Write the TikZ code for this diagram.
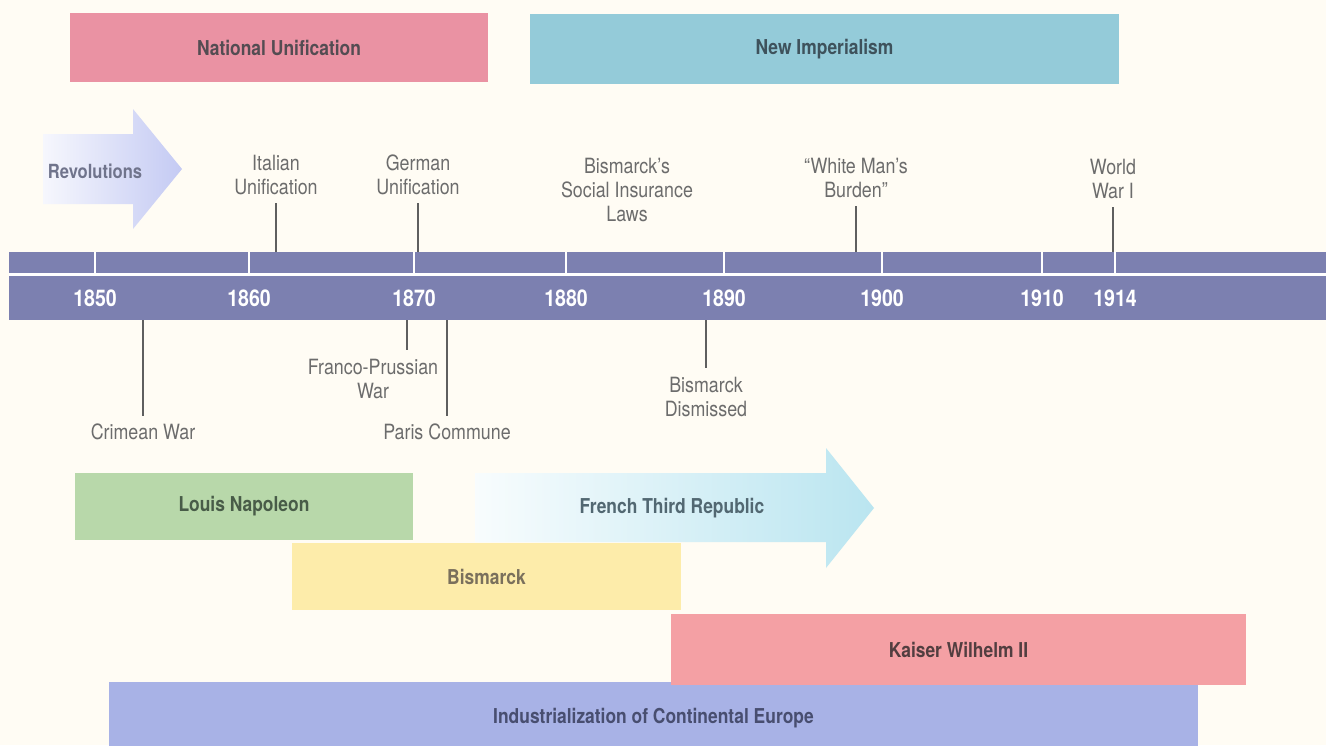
\documentclass[tikz,border=0pt]{standalone}
\usepackage{fontspec}
\setmainfont[FakeStretch=0.85]{TeX Gyre Heros}
\usetikzlibrary{calc}

\definecolor{bgc}{RGB}{255,252,244}
\definecolor{natc}{RGB}{234,146,163}
\definecolor{impc}{RGB}{148,203,217}
\definecolor{revc}{RGB}{196,202,243}
\definecolor{axisc}{RGB}{124,128,176}
\definecolor{louc}{RGB}{184,216,170}
\definecolor{ftrc}{RGB}{186,229,240}
\definecolor{bisc}{RGB}{253,236,170}
\definecolor{kaic}{RGB}{244,160,164}
\definecolor{indc}{RGB}{168,178,230}
\definecolor{lblc}{RGB}{108,108,108}
\definecolor{linkc}{RGB}{95,95,95}
\definecolor{bandt}{RGB}{78,80,84}
\definecolor{natt}{RGB}{84,76,82}
\definecolor{impt}{RGB}{62,82,92}
\definecolor{revt}{RGB}{112,116,140}
\definecolor{lout}{RGB}{72,92,72}
\definecolor{ftrt}{RGB}{82,104,114}
\definecolor{bist}{RGB}{122,112,92}
\definecolor{kait}{RGB}{82,62,64}
\definecolor{indt}{RGB}{72,78,112}

\tikzset{
  band/.style={inner sep=0pt, text=bandt, font=\bfseries\fontsize{20.5}{24}\selectfont},
  lbl/.style={align=center, text=lblc, inner sep=8pt, font=\fontsize{21}{24}\selectfont},
  link/.style={draw=linkc, line width=1.5pt},
  yr/.style={text=white, font=\bfseries\fontsize{23}{26}\selectfont}
}

\begin{document}
\begin{tikzpicture}[x=1pt,y=-1pt]
	% Background and page size
	\fill[bgc] (0,0) rectangle (1326,745);
	\useasboundingbox (0,0) rectangle (1326,745);
	
	% Top periods
	\node[band, fill=natc, text=natt, minimum width=418pt, minimum height=69pt] (natuni) at (279,47.5) {National Unification};
	\node[band, fill=impc, text=impt, minimum width=589pt, minimum height=70pt] (newimp) at (824.5,49) {New Imperialism};
	
	% Revolutions arrow
	\shade[left color=revc!15, right color=revc] (43,134) -- (133,134) -- (133,109) -- (182,169) -- (133,229) -- (133,204) -- (43,204) -- cycle;
	\node[text=revt, font=\bfseries\fontsize{19.5}{22}\selectfont] (revol) at (95,171) {Revolutions};
	
	% Draw the time axis
	\node[fill=axisc, inner sep=0pt, minimum width=1340pt, minimum height=68pt, anchor=north west] (axis) at (9,252) {};
	\draw[white, line width=2.5pt] (9,274.5) -- (1349,274.5);
	\foreach \yr/\x in {1850/95, 1860/249, 1870/414, 1880/566, 1890/724, 1900/882, 1910/1042, 1914/1115}
	{
		\draw[white, line width=2pt] (\x,252) -- (\x,274);
		\node[yr] (y\yr) at (\x,298) {\yr};
	}
	
	% Events above the axis
	\node[lbl] (ital) at (276,175) {Italian\\Unification};
	\node[lbl] (germ) at (418,175) {German\\Unification};
	\node[lbl] (insur) at (627,190) {Bismarck’s\\Social Insurance\\Laws};
	\node[lbl] (burden) at (856,178) {“White Man’s\\Burden”};
	\node[lbl] (wwi) at (1113,179) {World\\War I};
	\coordinate (c-ital) at (276,252);
	\coordinate (c-germ) at (418,252);
	\coordinate (c-burden) at (856,252);
	\coordinate (c-wwi) at (1113,252);
	\draw[link] (c-ital) -- (ital.south);
	\draw[link] (c-germ) -- (germ.south);
	\draw[link] (c-burden) -- (burden.south);
	\draw[link] (c-wwi) -- (wwi.south);
	
	% Events below the axis
	\node[lbl] (crim) at (143,432) {Crimean War};
	\node[lbl] (franco) at (373,378.5) {Franco-Prussian\\War};
	\node[lbl] (paris) at (447,432) {Paris Commune};
	\node[lbl] (dism) at (706,396.5) {Bismarck\\Dismissed};
	\coordinate (c-crim) at (143,320);
	\coordinate (c-franco) at (407,320);
	\coordinate (c-paris) at (447,320);
	\coordinate (c-dism) at (706,320);
	\draw[link] (c-crim) -- (crim.north);
	\draw[link] (c-franco) -- (c-franco |- franco.north);
	\draw[link] (c-paris) -- (paris.north);
	\draw[link] (c-dism) -- (dism.north);
	
	% Rulers and lower periods
	\node[band, fill=louc, text=lout, minimum width=338pt, minimum height=67pt] (louis) at (244,506.5) {Louis Napoleon};
	\shade[left color=ftrc!10, right color=ftrc] (475,473) -- (826,473) -- (826,448) -- (874,508) -- (826,568) -- (826,542) -- (475,542) -- cycle;
	\node[band, text=ftrt] (ftrep) at (672,508) {French Third Republic};
	\node[band, fill=bisc, text=bist, minimum width=389pt, minimum height=67pt] (bism) at (486.5,576.5) {Bismarck};
	\node[band, fill=indc, text=indt, minimum width=1089pt, minimum height=72pt] (indus) at (653.5,718) {Industrialization of Continental Europe};
	\node[band, fill=kaic, text=kait, minimum width=575pt, minimum height=71pt] (kaiser) at (958.5,649.5) {Kaiser Wilhelm II};
\end{tikzpicture}
\end{document}
